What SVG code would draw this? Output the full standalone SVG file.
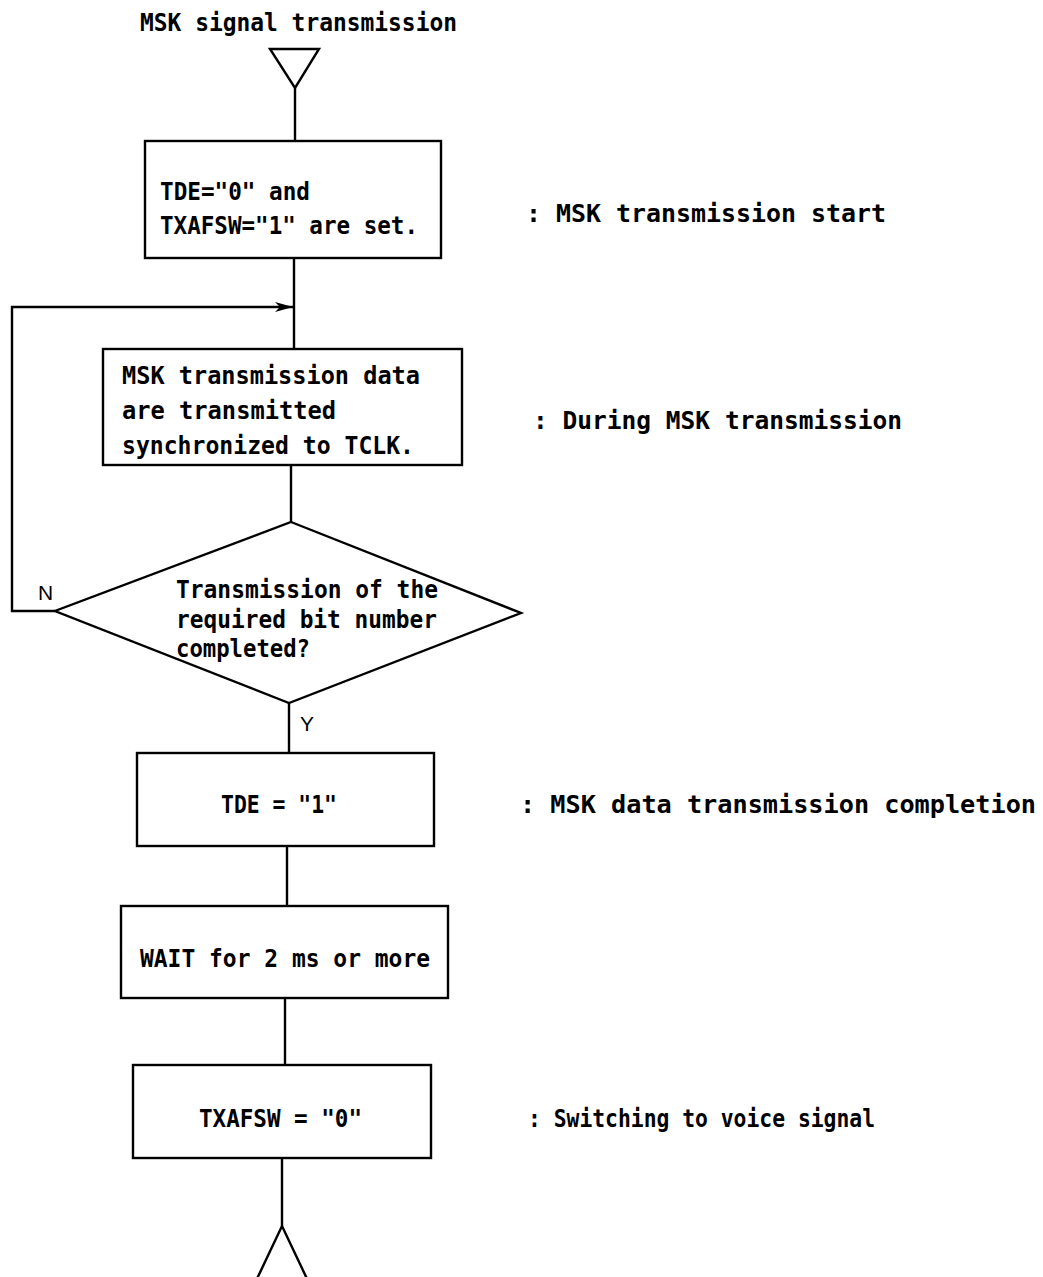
<svg xmlns="http://www.w3.org/2000/svg" width="1043" height="1277" viewBox="0 0 1043 1277">
<style>
  .bg{fill:#ffffff}
  .shape{fill:#ffffff;stroke:#000;stroke-width:2.4}
  .ln{fill:none;stroke:#000;stroke-width:2.4}
  .t{font-family:"DejaVu Sans Mono","Liberation Mono",monospace;font-weight:bold;font-size:24px;fill:#000}
  .lbl{font-family:"Liberation Sans",Arial,sans-serif;font-size:21px;fill:#000}
</style>
<defs>
  <marker id="arr" markerWidth="20" markerHeight="12" refX="18" refY="6" orient="auto" markerUnits="userSpaceOnUse">
    <path d="M0,1 L18,6 L0,11 L5,6 Z" fill="#000"/>
  </marker>
</defs>
<rect class="bg" x="0" y="0" width="1043" height="1277"/>

<g id="connectors">
  <line class="ln" x1="295" y1="88" x2="295" y2="141"/>
  <line class="ln" x1="294" y1="258" x2="294" y2="349"/>
  <line class="ln" x1="291" y1="465" x2="291" y2="522"/>
  <polyline class="ln" points="55,611 12,611 12,307 293,307" marker-end="url(#arr)"/>
  <line class="ln" x1="289" y1="703" x2="289" y2="753"/>
  <line class="ln" x1="287" y1="846" x2="287" y2="906"/>
  <line class="ln" x1="285" y1="998" x2="285" y2="1065"/>
  <line class="ln" x1="282" y1="1158" x2="282" y2="1226"/>
  <text class="lbl" x="38" y="600">N</text>
  <text class="lbl" x="300" y="731">Y</text>
</g>

<g id="start">
  <text class="t" x="140" y="31" textLength="317" lengthAdjust="spacingAndGlyphs">MSK signal transmission</text>
  <polygon class="shape" points="270,49 319,49 295,88"/>
</g>

<g id="box1">
  <rect class="shape" x="145" y="141" width="296" height="117"/>
  <text class="t" x="160" y="200" textLength="150" lengthAdjust="spacingAndGlyphs">TDE="0" and</text>
  <text class="t" x="160" y="234" textLength="258" lengthAdjust="spacingAndGlyphs">TXAFSW="1" are set.</text>
</g>
<g id="note1">
  <text class="t" x="526" y="222" textLength="360" lengthAdjust="spacingAndGlyphs">: MSK transmission start</text>
</g>

<g id="box2">
  <rect class="shape" x="103" y="349" width="359" height="116"/>
  <text class="t" x="122" y="384" textLength="298" lengthAdjust="spacingAndGlyphs">MSK transmission data</text>
  <text class="t" x="122" y="419" textLength="214" lengthAdjust="spacingAndGlyphs">are transmitted</text>
  <text class="t" x="122" y="454" textLength="292" lengthAdjust="spacingAndGlyphs">synchronized to TCLK.</text>
</g>
<g id="note2">
  <text class="t" x="533" y="429" textLength="369" lengthAdjust="spacingAndGlyphs">: During MSK transmission</text>
</g>

<g id="decision">
  <polygon class="shape" points="291,522 521,613 289,703 55,611"/>
  <text class="t" x="176" y="598" textLength="262" lengthAdjust="spacingAndGlyphs">Transmission of the</text>
  <text class="t" x="176" y="628" textLength="261" lengthAdjust="spacingAndGlyphs">required bit number</text>
  <text class="t" x="176" y="657" textLength="134" lengthAdjust="spacingAndGlyphs">completed?</text>
</g>

<g id="box3">
  <rect class="shape" x="137" y="753" width="297" height="93"/>
  <text class="t" x="221" y="813" textLength="116" lengthAdjust="spacingAndGlyphs">TDE = "1"</text>
</g>
<g id="note3">
  <text class="t" x="520" y="813" textLength="516" lengthAdjust="spacingAndGlyphs">: MSK data transmission completion</text>
</g>

<g id="box4">
  <rect class="shape" x="121" y="906" width="327" height="92"/>
  <text class="t" x="140" y="967" textLength="290" lengthAdjust="spacingAndGlyphs">WAIT for 2 ms or more</text>
</g>

<g id="box5">
  <rect class="shape" x="133" y="1065" width="298" height="93"/>
  <text class="t" x="199" y="1127" textLength="163" lengthAdjust="spacingAndGlyphs">TXAFSW = "0"</text>
</g>
<g id="note5">
  <text class="t" x="528" y="1127" textLength="347" lengthAdjust="spacingAndGlyphs">: Switching to voice signal</text>
</g>

<g id="end">
  <polyline class="ln" points="255,1283 282,1226 309,1283"/>
</g>
</svg>
